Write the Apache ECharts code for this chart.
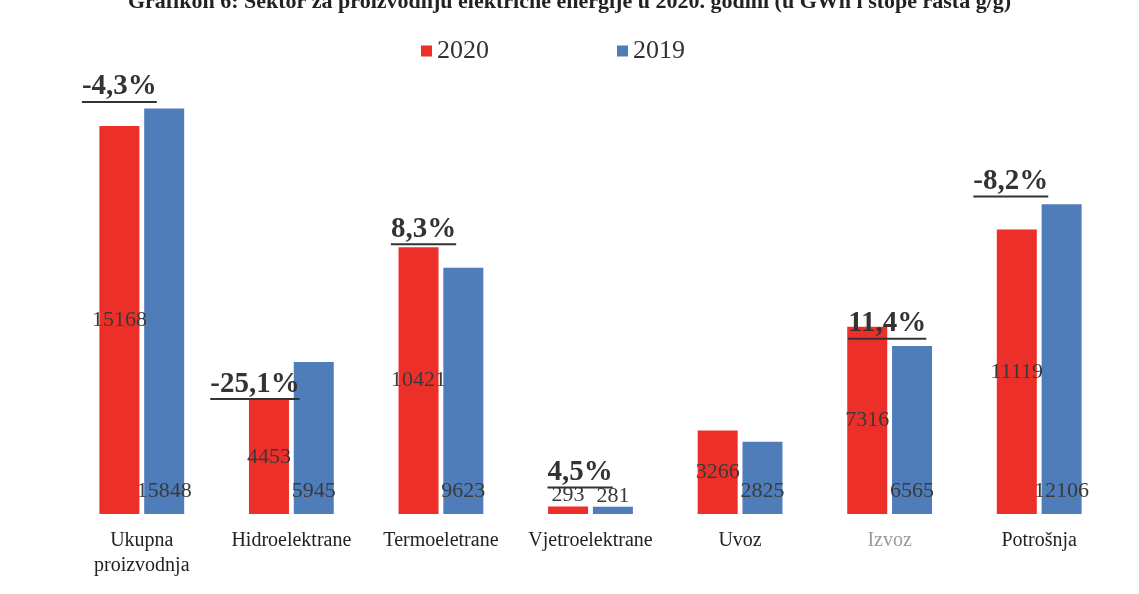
<!DOCTYPE html>
<html>
<head>
<meta charset="utf-8">
<script src="https://cdn.jsdelivr.net/npm/echarts@6/dist/echarts.min.js"></script>
<style>
  html, body { margin: 0; padding: 0; background: #fff; }
  #main { width: 1139px; height: 594px; }
</style>
</head>
<body>
<div id="main"></div>
<script>
// kategorije i vrijednosti (GWh)
var categories = ['Ukupna\nproizvodnja', 'Hidroelektrane', 'Termoeletrane', 'Vjetroelektrane', 'Uvoz', 'Izvoz', 'Potrošnja'];
var values2020 = [15168, 4453, 10421, 293, 3266, 7316, 11119];
var values2019 = [15848, 5945, 9623, 281, 2825, 6565, 12106];
// stope rasta g/g
var growth = ['-4,3%', '-25,1%', '8,3%', '4,5%', '', '11,4%', '-8,2%'];
// pomak natpisa stope rasta u odnosu na vrh crvenog stupca (px)
var growthOffset = [[0, -22], [-14, 1], [5, -1], [12, -17], [0, 0], [20, 14], [-6, -31]];

var serif = '"Liberation Serif", "DejaVu Serif", serif';
var labelColor = '#3a3a3a';

function textWidth(txt, font) {
  var ctx = document.createElement('canvas').getContext('2d');
  ctx.font = font;
  return ctx.measureText(txt).width;
}

var myChart = echarts.init(document.getElementById('main'));

var redData = values2020.map(function (v, i) {
  var item = { value: v };
  if (v < 1000) item.label = { position: 'top', distance: 0 };
  return item;
});
var blueData = values2019.map(function (v, i) {
  var item = { value: v };
  if (v < 1000) item.label = { position: 'top', distance: 0 };
  return item;
});

var growthPoints = [];
growth.forEach(function (g, i) {
  if (!g) return;
  var w = textWidth(g, 'bold 29px "Liberation Serif"');
  growthPoints.push({
    coord: [i, values2020[i]],
    label: {
      show: true,
      position: 'top',
      distance: 0,
      offset: growthOffset[i],
      formatter: '{t|' + g + '}\n{u| }',
      rich: {
        t: { fontFamily: serif, fontSize: 29, fontWeight: 'bold', color: '#333', lineHeight: 27 },
        u: { width: w, height: 2, lineHeight: 3, fontSize: 1, backgroundColor: '#333' }
      }
    }
  });
});

var option = {
  backgroundColor: '#fff',
  animation: false,
  title: {
    text: 'Grafikon 6: Sektor za proizvodnju električne energije u 2020. godini (u GWh i stope rasta g/g)',
    left: 'center',
    top: -14,
    textStyle: { fontFamily: serif, fontSize: 22, fontWeight: 'bold', color: '#222' }
  },
  legend: {
    data: ['2020', '2019'],
    left: 416,
    top: 33,
    itemWidth: 11,
    itemHeight: 11,
    itemGap: 128,
    icon: 'rect',
    textStyle: { fontFamily: serif, fontSize: 26, color: '#333' }
  },
  grid: { left: 67, right: 25, top: 79, bottom: 80 },
  xAxis: {
    type: 'category',
    data: categories,
    axisLine: { show: false },
    axisTick: { show: false },
    axisLabel: {
      margin: 14,
      fontFamily: serif,
      fontSize: 20,
      lineHeight: 25,
      color: function (val) { return val === 'Izvoz' ? '#9a9a9a' : '#222'; },
      interval: 0
    }
  },
  yAxis: { type: 'value', min: 0, max: 17000, show: false, splitLine: { show: false } },
  series: [
    {
      name: '2020',
      type: 'bar',
      barWidth: 40,
      barGap: '12%',
      itemStyle: { color: '#ec2f28' },
      data: redData,
      label: {
        show: true,
        position: 'inside',
        fontFamily: serif,
        fontSize: 22,
        color: labelColor
      },
      markPoint: {
        symbol: 'circle',
        symbolSize: 1,
        itemStyle: { color: 'rgba(0,0,0,0)' },
        data: growthPoints
      }
    },
    {
      name: '2019',
      type: 'bar',
      barWidth: 40,
      itemStyle: { color: '#4e7dba' },
      data: blueData,
      label: {
        show: true,
        position: 'insideBottom',
        distance: 12,
        fontFamily: serif,
        fontSize: 22,
        color: labelColor
      }
    }
  ]
};

myChart.setOption(option);
</script>
</body>
</html>
